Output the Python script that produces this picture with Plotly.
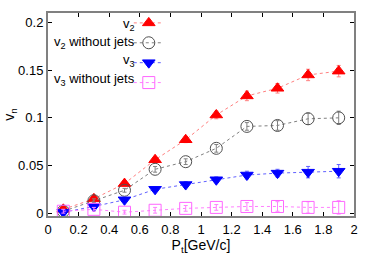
import plotly.graph_objects as go

pt = [0.1, 0.3, 0.5, 0.7, 0.9, 1.1, 1.3, 1.5, 1.7, 1.9]

v2 = [0.004, 0.015, 0.031, 0.056, 0.077, 0.103, 0.123, 0.131, 0.145, 0.149]
v2_err = [0.002, 0.002, 0.002, 0.003, 0.003, 0.004, 0.005, 0.005, 0.006, 0.006]

v2_nojets = [0.002, 0.013, 0.024, 0.046, 0.054, 0.068, 0.091, 0.092, 0.099, 0.100]
v2_nojets_err = [0.002, 0.002, 0.002, 0.003, 0.003, 0.004, 0.004, 0.005, 0.006, 0.007]

v3 = [0.001, 0.007, 0.014, 0.025, 0.030, 0.035, 0.040, 0.042, 0.043, 0.044]
v3_err = [0.002, 0.002, 0.002, 0.002, 0.003, 0.003, 0.004, 0.004, 0.006, 0.007]

v3_nojets = [0.002, 0.004, 0.001, 0.003, 0.005, 0.006, 0.007, 0.007, 0.006, 0.006]
v3_nojets_err = [0.002, 0.002, 0.002, 0.003, 0.003, 0.003, 0.004, 0.005, 0.006, 0.007]

names = ["v<sub>2</sub>", "v<sub>2</sub> without jets", "v<sub>3</sub>", "v<sub>3</sub> without jets"]
xticks = [0, 0.2, 0.4, 0.6, 0.8, 1, 1.2, 1.4, 1.6, 1.8, 2]
yticks = [0, 0.05, 0.1, 0.15, 0.2]

series = [
    (v2, v2_err, "#ff0000", "#ff8080", "triangle-up"),
    (v2_nojets, v2_nojets_err, "#505050", "#808080", "circle-open"),
    (v3, v3_err, "#0000ff", "#6060ff", "triangle-down"),
    (v3_nojets, v3_nojets_err, "#ff66ff", "#ff80ff", "square-open"),
]

fig = go.Figure()
for i, (vals, errs, mcol, lcol, sym) in enumerate(series):
    fig.add_trace(go.Scatter(
        x=pt, y=vals, name="", mode="lines+markers",
        hovertemplate=names[i] + ": %{y}<extra></extra>",
        line=dict(color=lcol, width=1, dash="dot"),
        marker=dict(symbol=sym, size=11 if "open" not in sym else 12,
                    color=mcol, line=dict(color=mcol, width=1)),
        error_y=dict(type="data", array=errs, visible=True,
                     color=lcol, thickness=1, width=2),
    ))

font = "Liberation Sans, Arial, Helvetica, sans-serif"
fig.update_layout(
    width=366, height=256,
    margin=dict(l=40, r=11, t=8, b=39),
    paper_bgcolor="white", plot_bgcolor="white",
    font=dict(family=font, size=13, color="black"),
    showlegend=True,
    legend=dict(x=0.264, y=1.025, xanchor="left", yanchor="top",
                bgcolor="rgba(0,0,0,0)", font=dict(size=13),
                itemwidth=30, tracegroupgap=0),
    xaxis=dict(range=[0, 2], tickvals=xticks, ticktext=[f"{v:g}" for v in xticks],
               ticks="inside", ticklen=4, tickcolor="black", showgrid=False,
               zeroline=False, showline=True, linecolor="#808080", linewidth=2,
               mirror="ticks",
               title=dict(text="P<sub>t</sub>[GeV/c]", standoff=2, font=dict(size=14))),
    yaxis=dict(range=[-0.003, 0.21], tickvals=yticks, ticktext=[f"{v:g}" for v in yticks],
               ticks="inside", ticklen=4, tickcolor="black", showgrid=False,
               zeroline=False, showline=True, linecolor="#808080", linewidth=2,
               mirror="ticks",
               title=dict(text="v<sub>n</sub>", standoff=0, font=dict(size=14))),
)

ys = [0.945, 0.855, 0.764, 0.673]
for i, n in enumerate(names):
    fig.add_annotation(x=0.292, y=ys[i], xref="paper", yref="paper", text=n,
                       showarrow=False, xanchor="right", yanchor="middle",
                       font=dict(size=13, color="black"))

fig.write_html("out.html", config={"displayModeBar": False},
               post_script="document.body.style.margin='0';document.body.style.overflow='hidden';")
